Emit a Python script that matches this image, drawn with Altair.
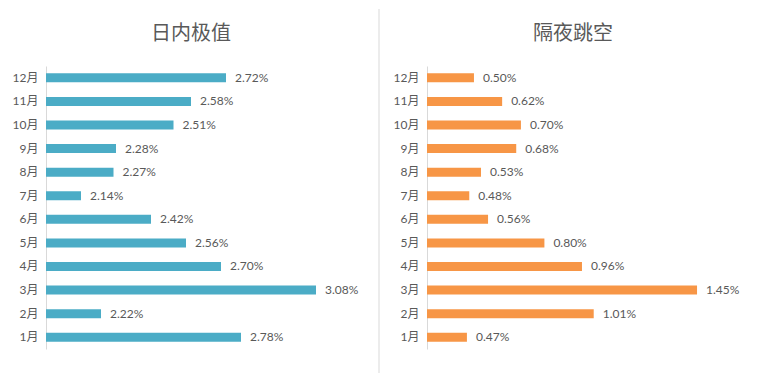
import altair as alt
import pandas as pd

months = ["1月", "2月", "3月", "4月", "5月", "6月", "7月", "8月", "9月", "10月", "11月", "12月"]
intraday = [2.78, 2.22, 3.08, 2.70, 2.56, 2.42, 2.14, 2.27, 2.28, 2.51, 2.58, 2.72]
overnight = [0.47, 1.01, 1.45, 0.96, 0.80, 0.56, 0.48, 0.53, 0.68, 0.70, 0.62, 0.50]
titles = ["日内极值", "隔夜跳空"]

TEXT = "#595959"
GRID = "#D9D9D9"
LABEL_FONT = "Lato, 'Noto Sans CJK SC', sans-serif"
TITLE_FONT = "'Noto Sans CJK SC', sans-serif"
H = 283

df1 = pd.DataFrame({"month": months, "v": [x / 100 for x in intraday]})
df2 = pd.DataFrame({"month": months, "v": [x / 100 for x in overnight]})
dummy = pd.DataFrame({"a": [0]})


def panel(df, title, color, domain, width, title_x, rule_x, rule_color):
    y = alt.Y(
        "month:N",
        sort=months[::-1],
        scale=alt.Scale(paddingInner=0, paddingOuter=0),
        axis=alt.Axis(
            title=None, ticks=False, domain=True, domainColor=GRID,
            labelPadding=8, labelFontSize=12, labelColor=TEXT, labelFont=LABEL_FONT,
        ),
    )
    x = alt.X("v:Q", scale=alt.Scale(domain=domain, zero=False, nice=False), axis=None)
    base = alt.Chart(df).encode(y=y, x=x)
    bars = base.mark_bar(size=9, color=color, clip=True).encode(x2=alt.X2(datum=domain[0]))
    labels = base.mark_text(align="left", baseline="middle", dx=9, fontSize=12,
                            color=TEXT, font=LABEL_FONT).encode(text=alt.Text("v:Q", format=".2%"))
    rule = alt.Chart(dummy).mark_rule(color=rule_color, strokeWidth=1).encode(
        x=alt.value(rule_x), y=alt.value(-57), y2=alt.value(H + 24)
    )
    ttl = alt.Chart(dummy).mark_text(
        fontSize=20, color=TEXT, font=TITLE_FONT, align="center", baseline="middle"
    ).encode(x=alt.value(title_x), y=alt.value(-32), text=alt.value(title))
    return alt.layer(rule, bars, labels, ttl).properties(width=width, height=H)


left = panel(df1, titles[0], "#4BACC6", [0.02, 0.033], 325, 145, -37, "white")
right = panel(df2, titles[1], "#F79646", [0.003, 0.0165], 317, 146, -48, GRID)

chart = (
    alt.hconcat(left, right, spacing=7)
    .properties(padding={"left": 0, "top": 0, "right": 0, "bottom": 0}, background="white")
    .configure_view(stroke=None, strokeWidth=0)
)

chart.save("out.html", embed_options={"renderer": "svg", "actions": False})
